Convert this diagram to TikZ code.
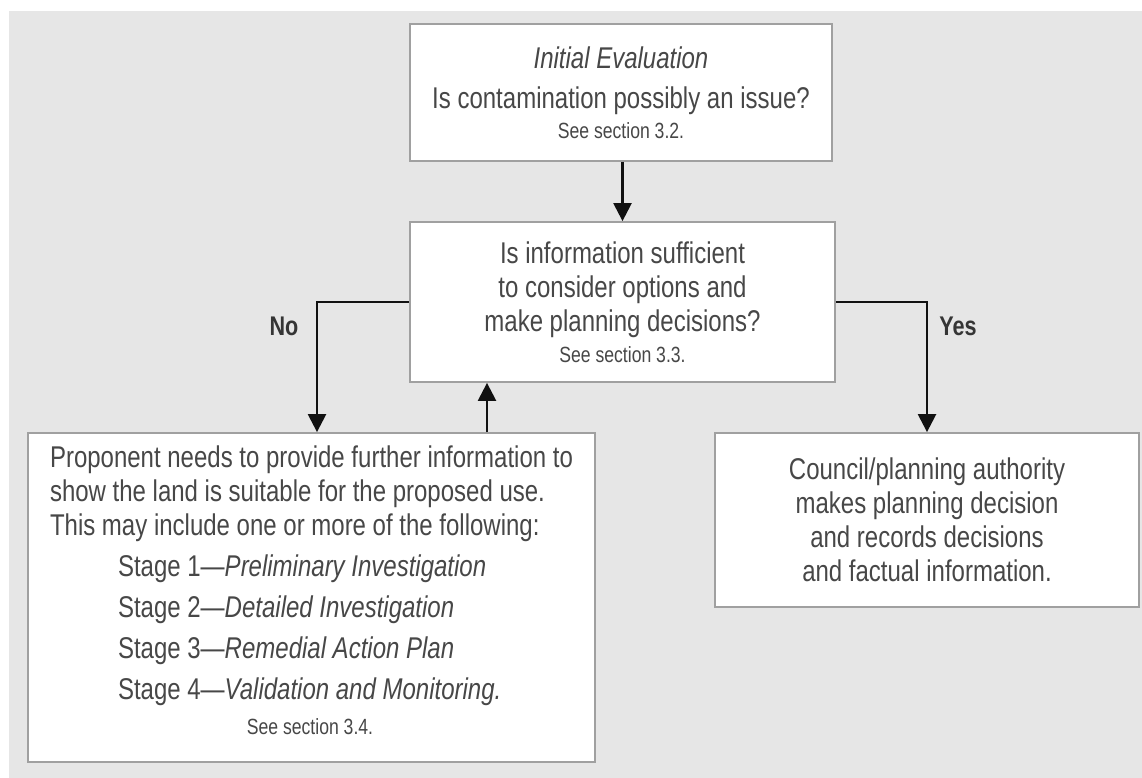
\documentclass[tikz,border=0pt]{standalone}
\usepackage{fontspec}
\setmainfont{Liberation Sans}[FakeStretch=0.8]
\usepackage{xcolor}
\usepackage{tikz}
\usetikzlibrary{arrows.meta,positioning}
\definecolor{paper}{HTML}{E6E6E6}
\definecolor{edge}{HTML}{A0A0A0}
\definecolor{ink}{HTML}{474747}
\definecolor{arrowink}{HTML}{111111}
\newcommand{\bigtxt}{\fontsize{30}{34}\selectfont}
\newcommand{\smalltxt}{\fontsize{22}{26}\selectfont}
\tikzset{
  flowbox/.style={draw=edge, line width=1.8pt, fill=white, text=ink, inner sep=0pt, align=center, font=\bigtxt},
  flowarrow/.style={draw=arrowink, line width=2.4pt, -{Triangle[width=18pt,length=18pt]}},
  branch/.style={text=arrowink!85, font=\bfseries\fontsize{27}{32}\selectfont}
}

\begin{document}
\begin{tikzpicture}[x=1pt, y=-1pt]
  \useasboundingbox (0,0) rectangle (1142,778);
  \fill[paper] (9,11) rectangle (1142,778);

  % boxes
  \node[flowbox, minimum width=422pt, minimum height=137pt] (eval) at (621,92.5)
    {{\itshape Initial Evaluation}\\[6pt]
     Is contamination possibly an issue?\\[-4pt]
     {\smalltxt See section 3.2.}};
  \node[flowbox, minimum width=425pt, minimum height=160pt] (info) at (622.5,302)
    {Is information sufficient\\
     to consider options and\\
     make planning decisions?\\[-3pt]
     {\smalltxt See section 3.3.}};
  \node[flowbox, align=left, minimum width=567pt, minimum height=329pt, text depth=15pt] (need) at (311.5,597.5)
    {Proponent needs to provide further information to\\
     show the land is suitable for the proposed use.\\
     This may include one or more of the following:\\[7pt]
     \hspace*{68pt}Stage 1---\textit{Preliminary Investigation}\\[7pt]
     \hspace*{68pt}Stage 2---\textit{Detailed Investigation}\\[7pt]
     \hspace*{68pt}Stage 3---\textit{Remedial Action Plan}\\[7pt]
     \hspace*{68pt}Stage 4---\textit{Validation and Monitoring.}\\[1pt]
     \makebox[520pt]{\smalltxt See section 3.4.}};
  \node[flowbox, minimum width=424pt, minimum height=174pt] (decide) at (927,520)
    {Council/planning authority\\
     makes planning decision\\
     and records decisions\\
     and factual information.};

  % connectors
  \coordinate (nodrop) at ([xshift=5.5pt]need.north);
  \coordinate (backup) at ([xshift=175.5pt]need.north);
  \draw[flowarrow] (info.north |- eval.south) -- (info.north);
  \draw[flowarrow] (info.west) -| (nodrop);
  \draw[flowarrow] (backup) -- (backup |- info.south);
  \draw[flowarrow] (info.east) -| (decide.north);

  \node[branch] (nolab) at (284,326) {No};
  \node[branch] (yeslab) at (958,326) {Yes};
\end{tikzpicture}
\end{document}
